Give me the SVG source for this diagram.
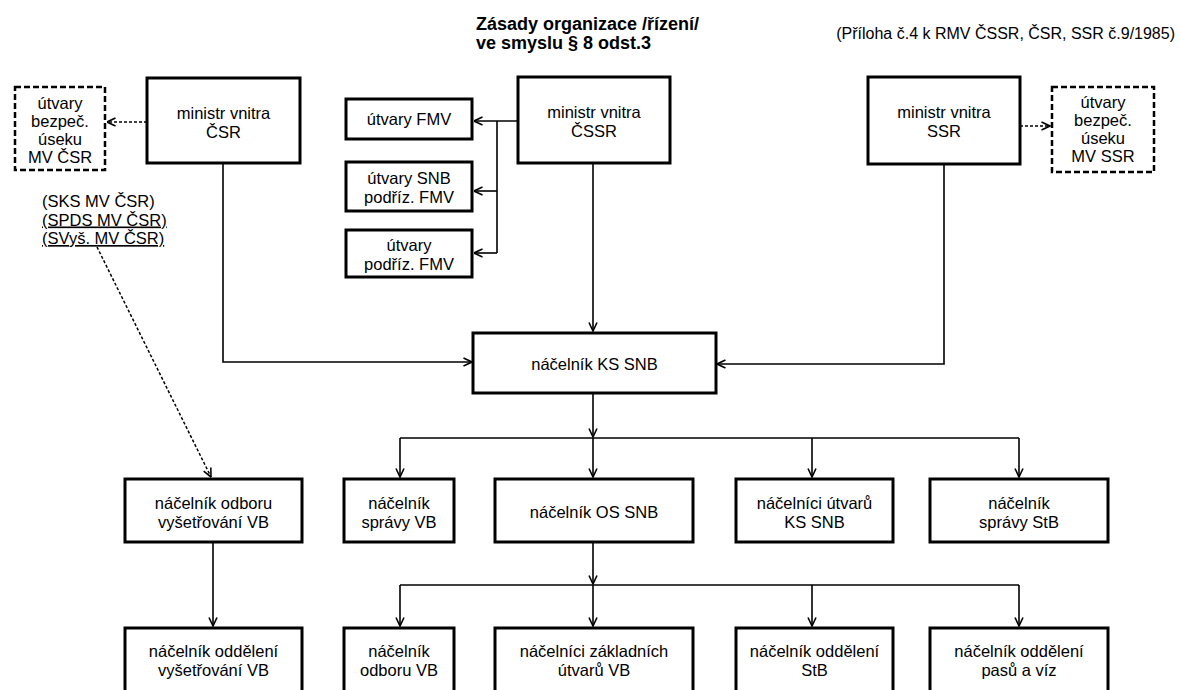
<svg xmlns="http://www.w3.org/2000/svg" width="1179" height="690" viewBox="0 0 1179 690">
<style>
text{font-family:"Liberation Sans",Arial,sans-serif;font-size:16.5px;fill:#000;text-anchor:middle}
.title{font-weight:bold;font-size:18px;text-anchor:start}
.note{text-anchor:start}
.annex{font-size:16px;text-anchor:end}
.u{text-decoration:underline}
.box{fill:#fff;stroke:#000;stroke-width:3}
.dbox{fill:#fff;stroke:#000;stroke-width:2.5;stroke-dasharray:6 3}
.ln{fill:none;stroke:#000;stroke-width:1.6}
.arr{marker-end:url(#ah)}
.dot{fill:none;stroke:#000;stroke-width:1.5;stroke-dasharray:3 2}
</style>
<defs>
<marker id="ah" viewBox="0 0 10 10" refX="9.5" refY="5" markerWidth="10" markerHeight="10" markerUnits="userSpaceOnUse" orient="auto">
<path d="M1,1 L9.5,5 L1,9" fill="none" stroke="#000" stroke-width="1.6"/>
</marker>
</defs>
<rect width="1179" height="690" fill="#fff"/>
<g id="title">
<text class="title" x="476" y="30">Zásady organizace /řízení/</text>
<text class="title" x="476" y="49">ve smyslu § 8 odst.3</text>
</g>
<g id="annex"><text class="annex" x="1175" y="39">(Příloha č.4 k RMV ČSSR, ČSR, SSR č.9/1985)</text></g>
<g id="connectors">
<path class="ln arr" d="M223,163 V362 H472"/>
<path class="ln arr" d="M944,164 V364 H717"/>
<path class="ln arr" d="M593,163 V331"/>
<path class="ln arr" d="M593,393 V437"/>
<path class="ln" d="M400,438 H1019"/>
<path class="ln arr" d="M400,438 V477"/>
<path class="ln arr" d="M593,438 V477"/>
<path class="ln arr" d="M812,438 V477"/>
<path class="ln arr" d="M1019,438 V477"/>
<path class="ln arr" d="M593,542 V584"/>
<path class="ln" d="M400,585 H1019"/>
<path class="ln arr" d="M400,585 V626"/>
<path class="ln arr" d="M593,585 V626"/>
<path class="ln arr" d="M812,585 V626"/>
<path class="ln arr" d="M1019,585 V626"/>
<path class="ln arr" d="M213,542 V626"/>
<path class="ln arr" d="M518,121 H474"/>
<path class="ln" d="M497,121 V253"/>
<path class="ln arr" d="M497,191 H474"/>
<path class="ln arr" d="M497,253 H474"/>
<path class="dot arr" d="M147,122 H107"/>
<path class="dot arr" d="M1020,126 H1050"/>
<path class="dot arr" d="M97,247 L211,477"/>
</g>
<g id="n_bezp_csr"><rect class="dbox" x="15" y="87" width="90" height="83"/>
<text x="60" y="108.5">útvary</text><text x="60" y="126.5">bezpeč.</text><text x="60" y="144.5">úseku</text><text x="60" y="162.5">MV ČSR</text></g>
<g id="n_min_csr"><rect class="box" x="147" y="78" width="153" height="85"/>
<text x="223.5" y="119">ministr vnitra</text><text x="223.5" y="138">ČSR</text></g>
<g id="n_min_cssr"><rect class="box" x="518" y="77" width="152" height="86"/>
<text x="594" y="118">ministr vnitra</text><text x="594" y="137">ČSSR</text></g>
<g id="n_min_ssr"><rect class="box" x="868" y="77" width="152" height="87"/>
<text x="944" y="118">ministr vnitra</text><text x="944" y="137">SSR</text></g>
<g id="n_bezp_ssr"><rect class="dbox" x="1052" y="87" width="102" height="85"/>
<text x="1103" y="107.5">útvary</text><text x="1103" y="125.5">bezpeč.</text><text x="1103" y="143.5">úseku</text><text x="1103" y="161.5">MV SSR</text></g>
<g id="n_fmv"><rect class="box" x="346" y="99" width="126" height="40"/>
<text x="409" y="125">útvary FMV</text></g>
<g id="n_snb_fmv"><rect class="box" x="346" y="162" width="126" height="49"/>
<text x="409" y="184">útvary SNB</text><text x="409" y="203">podříz. FMV</text></g>
<g id="n_podr_fmv"><rect class="box" x="346" y="230" width="126" height="47"/>
<text x="409" y="251">útvary</text><text x="409" y="270">podříz. FMV</text></g>
<g id="n_skupiny">
<text class="note" x="42" y="207">(SKS MV ČSR)</text>
<text class="note u" x="42" y="225.5">(SPDS MV ČSR)</text>
<text class="note u" x="42" y="244">(SVyš. MV ČSR)</text></g>
<g id="n_ks"><rect class="box" x="473" y="333" width="243" height="60"/>
<text x="594.5" y="370">náčelník KS SNB</text></g>
<g id="n_odb_vys"><rect class="box" x="125" y="479" width="177" height="63"/>
<text x="213.5" y="508.5">náčelník odboru</text><text x="213.5" y="527.5">vyšetřování VB</text></g>
<g id="n_spr_vb"><rect class="box" x="344" y="479" width="110" height="63"/>
<text x="399" y="508.5">náčelník</text><text x="399" y="527.5">správy VB</text></g>
<g id="n_os"><rect class="box" x="495" y="479" width="198" height="63"/>
<text x="594" y="518">náčelník OS SNB</text></g>
<g id="n_utv_ks"><rect class="box" x="736" y="479" width="157" height="63"/>
<text x="814.5" y="508.5">náčelníci útvarů</text><text x="814.5" y="527.5">KS SNB</text></g>
<g id="n_spr_stb"><rect class="box" x="930" y="479" width="178" height="63"/>
<text x="1019" y="508.5">náčelník</text><text x="1019" y="527.5">správy StB</text></g>
<g id="n_odd_vys"><rect class="box" x="125" y="628" width="177" height="80"/>
<text x="213.5" y="657">náčelník oddělení</text><text x="213.5" y="676">vyšetřování VB</text></g>
<g id="n_odb_vb"><rect class="box" x="344" y="628" width="110" height="80"/>
<text x="399" y="657">náčelník</text><text x="399" y="676">odboru VB</text></g>
<g id="n_zakl"><rect class="box" x="495" y="628" width="198" height="80"/>
<text x="594" y="657">náčelníci základních</text><text x="594" y="676">útvarů VB</text></g>
<g id="n_odd_stb"><rect class="box" x="736" y="628" width="157" height="80"/>
<text x="814.5" y="657">náčelník oddělení</text><text x="814.5" y="676">StB</text></g>
<g id="n_odd_pas"><rect class="box" x="930" y="628" width="178" height="80"/>
<text x="1019" y="657">náčelník oddělení</text><text x="1019" y="676">pasů a víz</text></g>
</svg>
